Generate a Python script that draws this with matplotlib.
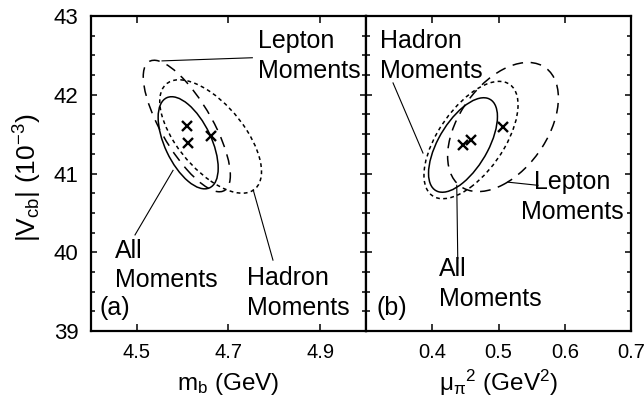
import numpy as np
import matplotlib.pyplot as plt
from matplotlib.patches import Circle
from matplotlib.transforms import Affine2D
from matplotlib.ticker import MultipleLocator, FuncFormatter

plt.rcParams['font.family'] = ['Liberation Sans', 'DejaVu Sans']
plt.rcParams['mathtext.default'] = 'regular'

# fit results: centre, 1-sigma widths and correlation for each moment set
fits = ['All', 'Lepton', 'Hadron']
mb_center = [4.612, 4.609, 4.661]
mb_vcb = [41.39, 41.603, 41.47]
mb_sig = [0.0655, 0.095, 0.111]
mb_vsig = [0.585, 0.835, 0.72]
mb_rho = [-0.55, -0.75, -0.62]

mu_center = [0.4464, 0.5068, 0.4585]
mu_vcb = [41.362, 41.59, 41.425]
mu_sig = [0.052, 0.0836, 0.071]
mu_vsig = [0.60, 0.82, 0.745]
mu_rho = [0.6, 0.45, 0.6]

styles = {'All': '-', 'Lepton': (0, (7, 5)), 'Hadron': (0, (2.5, 2.2))}

fig = plt.figure(figsize=(6.44, 4.03), dpi=100)
axA = fig.add_axes([91/644, 1-331/403, 275/644, 315/403])
axB = fig.add_axes([366/644, 1-331/403, 265/644, 315/403])


def draw_fit(ax, cx, cy, sx, sy, rho, ls):
    tr = Affine2D().from_values(sx, rho*sy, 0, sy*np.sqrt(1-rho**2), cx, cy)
    c = Circle((0, 0), 1, fill=False, lw=1.1, ls=ls, color='black',
               transform=tr + ax.transData)
    ax.add_patch(c)


for ax, xs, ys, sxs, sys, rhos in [(axA, mb_center, mb_vcb, mb_sig, mb_vsig, mb_rho),
                                   (axB, mu_center, mu_vcb, mu_sig, mu_vsig, mu_rho)]:
    for name, cx, cy, sx, sy, r in zip(fits, xs, ys, sxs, sys, rhos):
        draw_fit(ax, cx, cy, sx, sy, r, styles[name])
    ax.plot(xs, ys, 'x', color='black', ms=7.5, mew=1.7)
    ax.set_ylim(39, 43)
    ax.yaxis.set_major_locator(MultipleLocator(1))
    ax.yaxis.set_minor_locator(MultipleLocator(0.25))
    ax.tick_params(which='both', direction='in', top=True, right=True, width=1.1)
    ax.tick_params(axis='x', which='major', length=5, labelsize=14.5, pad=9)
    ax.tick_params(axis='y', which='major', length=4, labelsize=16, pad=9)
    ax.tick_params(axis='y', which='minor', length=3)
    for s in ax.spines.values():
        s.set_linewidth(1.6)

axA.set_xlim(4.4, 5.0)
axA.set_xticks([4.5, 4.7, 4.9])
axA.xaxis.set_major_formatter(FuncFormatter(lambda v, p: f'{v:.1f}'))
axB.set_xlim(0.3, 0.7)
axB.set_xticks([0.4, 0.5, 0.6, 0.7])
axB.tick_params(axis='y', labelleft=False)

axA.set_xlabel('m$_b$ (GeV)', fontsize=17.5, labelpad=6)
axB.set_xlabel(r'$\mu_{\pi}{}^{2}$ (GeV$^2$)', fontsize=17.5, labelpad=4)
fig.text(0.044, 0.558, '$|V_{cb}|$ (10$^{-3}$)', rotation=90, fontsize=19,
         ha='center', va='center')

tsize = 18
lw = 0.8
ls_ = 1.3
# panel (a) labels
axA.text(4.765, 42.49, 'Lepton\nMoments', fontsize=tsize, ha='left', va='center', linespacing=ls_)
axA.plot([4.555, 4.752], [42.43, 42.47], color='black', lw=lw)
axA.text(4.452, 39.83, 'All\nMoments', fontsize=tsize, ha='left', va='center', linespacing=ls_)
axA.plot([4.579, 4.496], [41.04, 40.22], color='black', lw=lw)
axA.text(4.741, 39.48, 'Hadron\nMoments', fontsize=tsize, ha='left', va='center', linespacing=ls_)
axA.plot([4.754, 4.797], [40.79, 39.90], color='black', lw=lw)
axA.text(4.4175, 39.29, '(a)', fontsize=tsize, ha='left', va='center')

# panel (b) labels
axB.text(0.321, 42.49, 'Hadron\nMoments', fontsize=tsize, ha='left', va='center', linespacing=ls_)
axB.plot([0.3408, 0.386], [42.15, 41.26], color='black', lw=lw)
axB.text(0.611, 40.70, 'Lepton\nMoments', fontsize=tsize, ha='center', va='center',
         multialignment='center', linespacing=ls_)
axB.plot([0.5143, 0.5596], [40.89, 40.85], color='black', lw=lw)
axB.text(0.410, 39.60, 'All\nMoments', fontsize=tsize, ha='left', va='center', linespacing=ls_)
axB.plot([0.437, 0.4385], [40.85, 39.92], color='black', lw=lw)
axB.text(0.3166, 39.29, '(b)', fontsize=tsize, ha='left', va='center')

fig.savefig('out.png', dpi=100)
